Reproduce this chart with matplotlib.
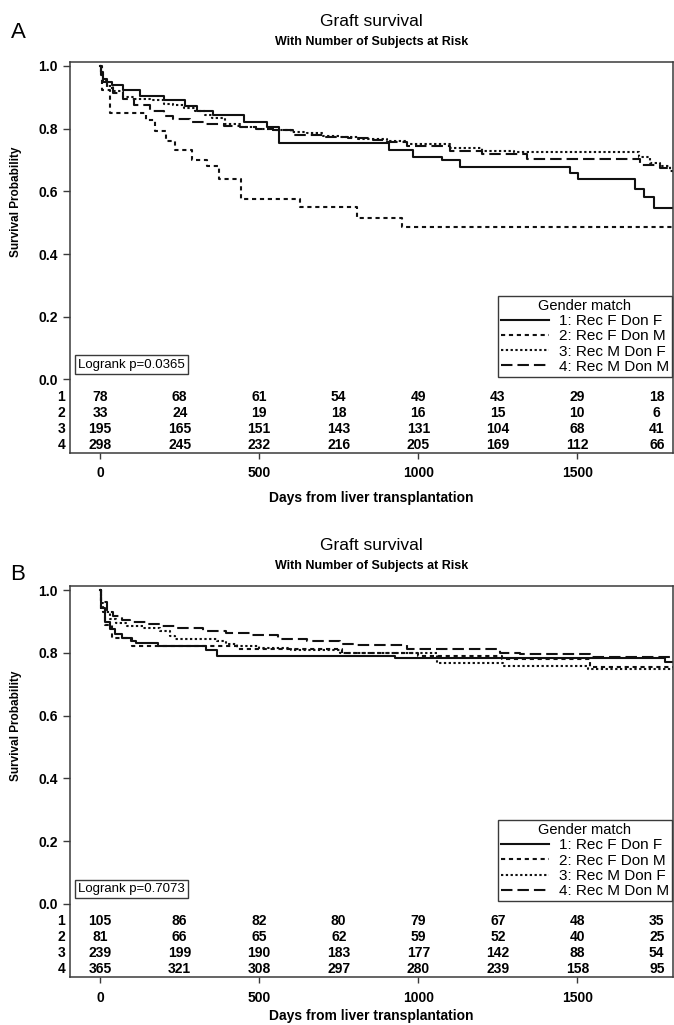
import matplotlib
matplotlib.use('Agg')
import matplotlib.pyplot as plt
from matplotlib import font_manager
from matplotlib.transforms import blended_transform_factory


def has_font(name):
    try:
        font_manager.findfont(font_manager.FontProperties(family=name), fallback_to_default=False)
        return True
    except ValueError:
        return False


NARROW = 'Liberation Sans Narrow' if has_font('Liberation Sans Narrow') else 'Liberation Sans'
REG = 'Liberation Sans'
plt.rcParams['font.family'] = [REG, 'DejaVu Sans']

# ---- data ----
group_labels = ['1: Rec F Don F', '2: Rec F Don M', '3: Rec M Don F', '4: Rec M Don M']
risk_times = [0, 250, 500, 750, 1000, 1250, 1500, 1750]

# panel A
a1_days = [0, 3, 8, 21, 36, 73, 126, 199, 267, 304, 356, 451, 524, 561, 907, 985, 1074, 1130, 1478, 1501, 1682, 1709, 1740, 1801]
a1_surv = [1.0, 0.98, 0.96, 0.95, 0.94, 0.925, 0.905, 0.89, 0.873, 0.857, 0.845, 0.822, 0.804, 0.755, 0.732, 0.71, 0.70, 0.678, 0.66, 0.638, 0.609, 0.582, 0.548, 0.548]
a2_days = [0, 5, 31, 145, 173, 208, 236, 288, 335, 372, 442, 629, 807, 949, 1801]
a2_surv = [1.0, 0.925, 0.851, 0.827, 0.792, 0.761, 0.732, 0.70, 0.68, 0.64, 0.577, 0.551, 0.515, 0.487, 0.487]
a3_days = [0, 3, 10, 20, 40, 73, 110, 156, 200, 230, 265, 299, 330, 351, 393, 440, 490, 544, 600, 649, 700, 753, 810, 858, 901, 964, 1101, 1200, 1300, 1693, 1730, 1761, 1790, 1801]
a3_surv = [1.0, 0.975, 0.955, 0.935, 0.92, 0.90, 0.895, 0.89, 0.88, 0.875, 0.865, 0.855, 0.845, 0.834, 0.815, 0.804, 0.80, 0.796, 0.79, 0.785, 0.778, 0.772, 0.768, 0.766, 0.762, 0.752, 0.74, 0.73, 0.726, 0.71, 0.69, 0.68, 0.665, 0.665]
a4_days = [0, 3, 10, 20, 40, 73, 105, 156, 200, 230, 282, 334, 390, 439, 490, 544, 607, 700, 780, 858, 901, 964, 1101, 1200, 1342, 1698, 1761, 1801]
a4_surv = [1.0, 0.97, 0.95, 0.93, 0.913, 0.895, 0.875, 0.855, 0.84, 0.83, 0.82, 0.815, 0.81, 0.804, 0.80, 0.795, 0.78, 0.775, 0.77, 0.765, 0.757, 0.745, 0.73, 0.72, 0.703, 0.683, 0.675, 0.675]
a_risk1 = [78, 68, 61, 54, 49, 43, 29, 18]
a_risk2 = [33, 24, 19, 18, 16, 15, 10, 6]
a_risk3 = [195, 165, 151, 143, 131, 104, 68, 41]
a_risk4 = [298, 245, 232, 216, 205, 169, 112, 66]
a_pvalue = 'Logrank p=0.0365'

# panel B
b1_days = [0, 4, 15, 30, 46, 67, 98, 114, 182, 334, 366, 927, 1776, 1801]
b1_surv = [1.0, 0.943, 0.90, 0.875, 0.86, 0.849, 0.838, 0.833, 0.823, 0.81, 0.789, 0.783, 0.77, 0.77]
b2_days = [0, 3, 15, 36, 99, 430, 760, 1000, 1262, 1540, 1801]
b2_surv = [1.0, 0.94, 0.89, 0.849, 0.823, 0.813, 0.80, 0.792, 0.78, 0.755, 0.755]
b3_days = [0, 4, 10, 30, 51, 83, 135, 188, 219, 235, 366, 397, 429, 500, 600, 755, 1058, 1267, 1535, 1801]
b3_surv = [1.0, 0.96, 0.932, 0.91, 0.896, 0.885, 0.88, 0.87, 0.854, 0.844, 0.838, 0.828, 0.823, 0.815, 0.81, 0.80, 0.769, 0.758, 0.748, 0.748]
b4_days = [0, 4, 20, 41, 67, 93, 146, 188, 240, 324, 397, 471, 560, 650, 754, 808, 965, 1258, 1320, 1540, 1801]
b4_surv = [1.0, 0.964, 0.932, 0.917, 0.906, 0.90, 0.893, 0.885, 0.88, 0.87, 0.865, 0.856, 0.845, 0.838, 0.83, 0.827, 0.813, 0.80, 0.797, 0.788, 0.788]
b_risk1 = [105, 86, 82, 80, 79, 67, 48, 35]
b_risk2 = [81, 66, 65, 62, 59, 52, 40, 25]
b_risk3 = [239, 199, 190, 183, 177, 142, 88, 54]
b_risk4 = [365, 321, 308, 297, 280, 239, 158, 95]
b_pvalue = 'Logrank p=0.7073'

# ---- styling ----
LINE_COLOR = '#111111'
FRAME_COLOR = '#3a3a3a'
LW = 1.5
dash_styles = ['-', (0, (2.0, 1.8)), (0, (1.1, 1.2)), (0, (5.5, 2.4))]
row_y = [-0.055, -0.106, -0.158, -0.209]


def draw_panel(ax, curves, risks, pvalue, xlabel_pad):
    for (days, surv), ls, lab in zip(curves, dash_styles, group_labels):
        ax.step(days, surv, where='post', color=LINE_COLOR, lw=LW, ls=ls, label=lab)

    ax.set_xlim(-95, 1801)
    ax.set_ylim(-0.2335, 1.0137)
    ax.set_yticks([0.0, 0.2, 0.4, 0.6, 0.8, 1.0])
    ax.set_yticklabels(['0.0', '0.2', '0.4', '0.6', '0.8', '1.0'])
    ax.set_xticks([0, 500, 1000, 1500])
    for lbl in ax.get_xticklabels() + ax.get_yticklabels():
        lbl.set_fontfamily(NARROW)
        lbl.set_fontweight('bold')
        lbl.set_fontsize(10)
    ax.tick_params(axis='y', length=5, width=1.0, pad=3.6, color=FRAME_COLOR)
    ax.tick_params(axis='x', length=4, width=1.0, pad=5.8, color=FRAME_COLOR)
    for sp in ax.spines.values():
        sp.set_color(FRAME_COLOR)
        sp.set_linewidth(1.1)

    ax.set_xlabel('Days from liver transplantation', fontfamily=NARROW,
                  fontweight='bold', fontsize=10, labelpad=xlabel_pad)

    # number at risk table
    trans = blended_transform_factory(ax.transAxes, ax.transData)
    for i, (row, yy) in enumerate(zip(risks, row_y)):
        ax.text(-0.008, yy, str(i + 1), transform=trans, ha='right', va='center',
                fontfamily=NARROW, fontweight='bold', fontsize=10)
        for t, n in zip(risk_times, row):
            ax.text(t, yy, str(n), ha='center', va='center',
                    fontfamily=NARROW, fontweight='bold', fontsize=10)

    ax.text(0.0138, 0.028, pvalue, transform=trans, ha='left', va='bottom',
            fontfamily=REG, fontsize=9.5,
            bbox=dict(boxstyle='square,pad=0.25', fc='white', ec=FRAME_COLOR, lw=1.0))

    leg = ax.legend(loc='lower right', bbox_to_anchor=(0.998, 0.194), borderaxespad=0,
                    title='Gender match', fontsize=11, title_fontsize=10.5,
                    frameon=True, fancybox=False, framealpha=1, edgecolor=FRAME_COLOR,
                    borderpad=0.2, labelspacing=0.08, handlelength=3.2, handletextpad=0.6)
    leg.get_frame().set_linewidth(1.0)


fig = plt.figure(figsize=(6.74, 10.25), dpi=100)
W, H = 674.0, 1025.0

ax_a = fig.add_axes([70 / W, 1 - 452.7 / H, 603 / W, 391 / H])
ax_b = fig.add_axes([70 / W, 1 - 977 / H, 603 / W, 391 / H])

draw_panel(ax_a, [(a1_days, a1_surv), (a2_days, a2_surv), (a3_days, a3_surv), (a4_days, a4_surv)],
           [a_risk1, a_risk2, a_risk3, a_risk4], a_pvalue, 8)
draw_panel(ax_b, [(b1_days, b1_surv), (b2_days, b2_surv), (b3_days, b3_surv), (b4_days, b4_surv)],
           [b_risk1, b_risk2, b_risk3, b_risk4], b_pvalue, 3)

# titles, panel letters, y labels
cx = (70 + 673) / 2 / W
for top, letter_y, letter in [(61.7, 32, 'A'), (586, 575, 'B')]:
    fig.text(cx, 1 - (top - 40) / H, 'Graft survival', ha='center', va='center',
             fontfamily=REG, fontsize=12.5)
    fig.text(cx, 1 - (top - 20) / H, 'With Number of Subjects at Risk', ha='center', va='center',
             fontfamily=NARROW, fontweight='bold', fontsize=9)
    fig.text(18 / W, 1 - letter_y / H, letter, ha='center', va='center',
             fontfamily=REG, fontsize=16)
    fig.text(16 / W, 1 - (top + 140) / H, 'Survival Probability', rotation=90,
             ha='center', va='center', fontfamily=NARROW, fontweight='bold', fontsize=8.5)

fig.savefig('out.png', dpi=100)
